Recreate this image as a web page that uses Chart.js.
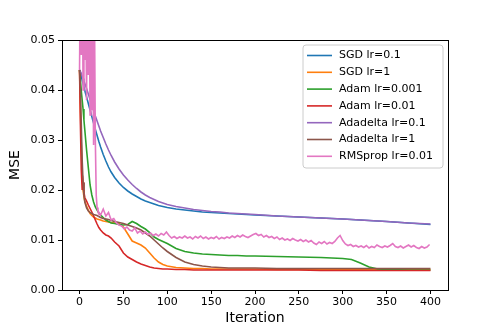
<!DOCTYPE html>
<html>
<head>
<meta charset="utf-8">
<script src="https://cdn.jsdelivr.net/npm/chart.js@4/dist/chart.umd.min.js"></script>
<style>html,body{margin:0;padding:0;background:#fff;}canvas{display:block;}</style>
</head>
<body>
<canvas id="c" width="498" height="332"></canvas>
<script>
// ---- data ----
const gridIters = [0,1,2,3,4,5,6,8,10,12,14,16,18,20,22,24,27,30,33,36,40,45,50,55,60,65,70,75,80,85,90,95,100,110,120,130,140,150,160,170,180,190,200,225,250,275,300,310,320,330,340,350,375,400];

const sgd01 = [0.0440,0.0434,0.0427,0.0420,0.0413,0.0406,0.0399,0.0386,0.0373,0.0360,0.0347,0.0334,0.0321,0.0309,0.0297,0.0286,0.0271,0.0258,0.0246,0.0236,0.0225,0.0214,0.0205,0.0198,0.0192,0.0187,0.0182,0.0178,0.0175,0.0172,0.0169,0.0167,0.0165,0.0162,0.0160,0.0158,0.0156,0.0155,0.0154,0.0153,0.0152,0.0151,0.0150,0.0148,0.0146,0.0144,0.0142,0.0141,0.0140,0.0139,0.0138,0.0137,0.0134,0.0131];

const sgd1 = [0.0440,0.0360,0.0290,0.0230,0.0200,0.0186,0.0178,0.0168,0.0160,0.0153,0.0149,0.0146,0.0144,0.0142,0.0141,0.0140,0.0138,0.0137,0.0136,0.0135,0.0134,0.0133,0.0126,0.0112,0.0098,0.0094,0.0090,0.0084,0.0074,0.0064,0.0056,0.0051,0.0048,0.0045,0.0044,0.0043,0.0043,0.0042,0.0042,0.0042,0.0042,0.0042,0.0042,0.0041,0.0041,0.0041,0.0041,0.0041,0.0041,0.0041,0.0041,0.0041,0.0041,0.0041];

const adam0001 = [0.0440,0.0420,0.0398,0.0380,0.0362,0.0340,0.0320,0.0280,0.0245,0.0210,0.0190,0.0176,0.0166,0.0160,0.0154,0.0150,0.0145,0.0140,0.0137,0.0134,0.0133,0.0131,0.0130,0.0131,0.0137,0.0133,0.0127,0.0122,0.0115,0.0106,0.0101,0.0097,0.0093,0.0083,0.0077,0.0074,0.0072,0.0071,0.0070,0.0069,0.0069,0.0068,0.0068,0.0067,0.0066,0.0065,0.0063,0.0061,0.0054,0.0046,0.0042,0.0041,0.0040,0.0040];

const adam001 = [0.0440,0.0330,0.0240,0.0200,0.0215,0.0195,0.0185,0.0178,0.0170,0.0163,0.0156,0.0148,0.0140,0.0132,0.0125,0.0120,0.0114,0.0110,0.0108,0.0104,0.0096,0.0088,0.0074,0.0066,0.0061,0.0056,0.0052,0.0049,0.0046,0.0044,0.0043,0.0042,0.0042,0.0041,0.0041,0.0040,0.0040,0.0040,0.0040,0.0040,0.0040,0.0040,0.0040,0.0040,0.0040,0.0039,0.0039,0.0039,0.0039,0.0039,0.0039,0.0039,0.0039,0.0039];

const adadelta01 = [0.0440,0.0437,0.0433,0.0428,0.0423,0.0418,0.0413,0.0403,0.0392,0.0381,0.0370,0.0359,0.0348,0.0338,0.0328,0.0318,0.0305,0.0292,0.0280,0.0269,0.0256,0.0242,0.0230,0.0220,0.0211,0.0203,0.0196,0.0190,0.0185,0.0181,0.0177,0.0174,0.0171,0.0167,0.0164,0.0161,0.0159,0.0157,0.0156,0.0154,0.0153,0.0152,0.0151,0.0148,0.0146,0.0144,0.0142,0.0141,0.0140,0.0139,0.0138,0.0137,0.0134,0.0132];

const adadelta1 = [0.0440,0.0400,0.0330,0.0260,0.0215,0.0190,0.0176,0.0164,0.0158,0.0155,0.0153,0.0151,0.0150,0.0149,0.0147,0.0145,0.0143,0.0142,0.0141,0.0139,0.0137,0.0135,0.0133,0.0130,0.0127,0.0124,0.0120,0.0114,0.0108,0.0100,0.0092,0.0084,0.0077,0.0065,0.0056,0.0051,0.0048,0.0046,0.0045,0.0044,0.0044,0.0044,0.0044,0.0043,0.0043,0.0043,0.0043,0.0043,0.0043,0.0043,0.0043,0.0043,0.0043,0.0043];

const rmsIters = [0,1,2,3,4,5,6,7,8,9,10,11,12,13,14,15,16,17,18,19,20,21,24,27,30,33,36,39,42,45,48,51,54,57,60,63,66,69,72,75,78,81,84,87,90,93,96,99,102,105,108,111,114,117,120,123,126,129,132,135,138,141,144,147,150,153,156,159,162,165,168,171,174,177,180,183,186,189,192,195,198,201,204,207,210,213,216,219,222,225,228,231,234,237,240,243,246,249,252,255,258,261,264,267,270,273,276,279,282,285,288,291,294,297,300,303,306,309,312,315,318,321,324,327,330,333,336,339,342,345,348,351,354,357,360,363,366,369,372,375,378,381,384,387,390,393,396,399];
const rmsprop001 = [0.0440,0.0660,0.0470,0.0720,0.0400,0.0680,0.0460,0.0620,0.0380,0.0700,0.0430,0.0600,0.0350,0.0580,0.0360,0.0560,0.0290,0.0560,0.0300,0.0190,0.0165,0.0158,0.0150,0.0162,0.0148,0.0155,0.0140,0.0143,0.0134,0.0130,0.0128,0.0122,0.0126,0.0120,0.0118,0.0124,0.0114,0.0118,0.0112,0.0116,0.0111,0.0114,0.0109,0.0112,0.0108,0.0113,0.0110,0.0116,0.0109,0.0104,0.0107,0.0103,0.0106,0.0104,0.0108,0.0104,0.0106,0.0102,0.0107,0.0104,0.0108,0.0103,0.0106,0.0102,0.0105,0.0103,0.0107,0.0102,0.0105,0.0103,0.0106,0.0104,0.0108,0.0105,0.0109,0.0106,0.0110,0.0107,0.0105,0.0108,0.0111,0.0113,0.0109,0.0111,0.0106,0.0109,0.0105,0.0107,0.0103,0.0106,0.0101,0.0104,0.0100,0.0102,0.0099,0.0103,0.0100,0.0098,0.0101,0.0097,0.0100,0.0096,0.0099,0.0094,0.0091,0.0096,0.0093,0.0097,0.0092,0.0095,0.0093,0.0097,0.0104,0.0109,0.0099,0.0092,0.0089,0.0091,0.0087,0.0089,0.0086,0.0088,0.0085,0.0089,0.0084,0.0087,0.0085,0.0090,0.0087,0.0085,0.0088,0.0086,0.0089,0.0093,0.0087,0.0085,0.0088,0.0084,0.0087,0.0090,0.0086,0.0089,0.0085,0.0083,0.0087,0.0084,0.0086,0.0091];

const labels = ['SGD lr=0.1','SGD lr=1','Adam lr=0.001','Adam lr=0.01','Adadelta lr=0.1','Adadelta lr=1','RMSprop lr=0.01'];
const colors = ['#1f77b4','#ff7f0e','#2ca02c','#d62728','#9467bd','#8c564b','#e377c2'];
const xTicks = [0,50,100,150,200,250,300,350,400];
const yTicks = [0,0.01,0.02,0.03,0.04,0.05];

// ---- build ----
const seriesY = [sgd01, sgd1, adam0001, adam001, adadelta01, adadelta1, rmsprop001];
const seriesX = [gridIters, gridIters, gridIters, gridIters, gridIters, gridIters, rmsIters];
const FONT = 'DejaVu Sans';

const datasets = seriesY.map((ys, i) => ({
  label: labels[i],
  data: ys.map((y, k) => ({x: seriesX[i][k], y: y})),
  borderColor: colors[i],
  backgroundColor: colors[i],
  borderWidth: 1.6,
  pointRadius: 0,
  tension: 0,
  fill: false,
  clip: 0,
  order: labels.length - i
}));

const framePlugin = {
  id: 'frame',
  afterDatasetsDraw(chart) {
    const a = chart.chartArea, ctx = chart.ctx;
    ctx.save();
    ctx.strokeStyle = '#000';
    ctx.lineWidth = 1;
    ctx.strokeRect(Math.round(a.left) + 0.5, Math.round(a.top) + 0.5, Math.round(a.right - a.left), Math.round(a.bottom - a.top));
    ctx.restore();
  }
};

const legendPlugin = {
  id: 'mplLegend',
  afterDraw(chart) {
    const ctx = chart.ctx;
    const x0 = 303, y0 = 45, w = 140, h = 123;
    ctx.save();
    ctx.beginPath();
    const r = 3;
    ctx.moveTo(x0 + r, y0);
    ctx.arcTo(x0 + w, y0, x0 + w, y0 + h, r);
    ctx.arcTo(x0 + w, y0 + h, x0, y0 + h, r);
    ctx.arcTo(x0, y0 + h, x0, y0, r);
    ctx.arcTo(x0, y0, x0 + w, y0, r);
    ctx.closePath();
    ctx.fillStyle = 'rgba(255,255,255,0.8)';
    ctx.fill();
    ctx.strokeStyle = '#cccccc';
    ctx.lineWidth = 1;
    ctx.stroke();
    ctx.font = '11px "' + FONT + '"';
    ctx.textBaseline = 'middle';
    ctx.fillStyle = '#000';
    chart.data.datasets.forEach((ds, i) => {
      const yy = 55.5 + i * 16.8;
      ctx.beginPath();
      ctx.strokeStyle = ds.borderColor;
      ctx.lineWidth = 1.6;
      ctx.moveTo(307, yy);
      ctx.lineTo(332, yy);
      ctx.stroke();
      ctx.fillText(ds.label, 339, yy);
    });
    ctx.restore();
  }
};

new Chart(document.getElementById('c'), {
  type: 'line',
  data: { datasets },
  options: {
    responsive: false,
    animation: false,
    devicePixelRatio: 1,
    layout: { padding: { top: 40, right: 50, left: 0, bottom: 0 } },
    plugins: { legend: { display: false }, tooltip: { enabled: false } },
    scales: {
      x: {
        type: 'linear', min: -20, max: 420,
        afterBuildTicks: s => { s.ticks = xTicks.map(v => ({ value: v })); },
        afterFit: s => { s.height = 42; },
        ticks: { font: { family: FONT, size: 11 }, color: '#000', padding: 2, maxRotation: 0 },
        grid: { drawOnChartArea: false, drawTicks: true, tickLength: 4, color: '#000' },
        border: { display: true, color: '#000' },
        title: { display: true, text: 'Iteration', font: { family: FONT, size: 14 }, color: '#000', padding: { top: 0, bottom: 5 } }
      },
      y: {
        type: 'linear', min: 0, max: 0.05,
        afterBuildTicks: s => { s.ticks = yTicks.map(v => ({ value: v })); },
        afterFit: s => { s.width = 62; },
        ticks: { font: { family: FONT, size: 11 }, color: '#000', padding: 3, callback: v => Number(v).toFixed(2) },
        grid: { drawOnChartArea: false, drawTicks: true, tickLength: 4, color: '#000' },
        border: { display: true, color: '#000' },
        title: { display: true, text: 'MSE', font: { family: FONT, size: 14 }, color: '#000', padding: { top: 7, bottom: 0 } }
      }
    }
  },
  plugins: [framePlugin, legendPlugin]
});
</script>
</body>
</html>
